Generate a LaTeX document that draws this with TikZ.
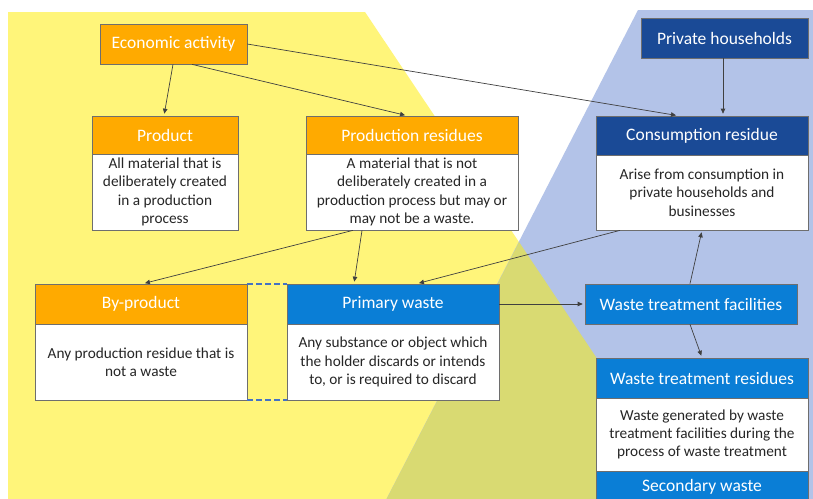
\documentclass[tikz,border=0pt]{standalone}
\usepackage{fontspec}
\setmainfont{Carlito}
\usetikzlibrary{arrows.meta}
\definecolor{bgyellow}{HTML}{FFF57A}
\definecolor{bgblue}{HTML}{B3C3E8}
\definecolor{bgolive}{HTML}{D9DA72}
\definecolor{hdorange}{HTML}{FFAA00}
\definecolor{hdblue}{HTML}{0A7ED6}
\definecolor{hddark}{HTML}{1A4A96}
\definecolor{bordergray}{HTML}{6E6E6E}
\definecolor{arrowgray}{HTML}{404040}
\definecolor{dashblue}{HTML}{4472C4}
\definecolor{bodytext}{HTML}{262626}
\tikzset{
  hdr/.style={draw=bordergray, line width=0.7pt, text=white, minimum width=#1, inner sep=0pt,
    font=\fontsize{17.5}{21}\selectfont, align=center},
  hdrO/.style={hdr=#1, fill=hdorange, minimum height=38pt},
  hdrB/.style={hdr=#1, fill=hdblue, minimum height=40pt},
  hdrD/.style={hdr=#1, fill=hddark, minimum height=40pt},
  bodybox/.style={draw=bordergray, line width=0.7pt, fill=white, text=bodytext, inner sep=0pt,
    font=\fontsize{15.3}{18.3}\selectfont, align=center},
  arr/.style={draw=arrowgray, line width=0.7pt, -{Triangle[width=4.5pt,length=5pt]}, shorten >=2pt},
  dashcon/.style={draw=dashblue, line width=2.2pt, dash pattern=on 6pt off 3pt}
}
\begin{document}
\begin{tikzpicture}[x=1pt,y=-1pt]
\useasboundingbox (0,0) rectangle (813,498);
% background
\fill[white] (0,0) rectangle (813,498);
\fill[bgyellow] (8,12) -- (365,12) -- (693,502) -- (8,502) -- cycle;
\fill[bgblue] (638,10) -- (815,10) -- (815,502) -- (385,502) -- cycle;
\fill[bgolive] (519,242) -- (693,502) -- (385,502) -- cycle;

% top row
\node[hdrO=147pt, minimum height=40pt] (econ) at (173.5,44) {Economic activity};
\node[hdrD=167pt] (ph) at (724.5,38) {Private households};

\node[hdrO=146pt] (prodh) at (165,135) {Product};
\node[bodybox, minimum width=146pt, minimum height=76pt] (prodb) at (165,192)
  {All material that is\\deliberately created\\in a production\\process};

\node[hdrO=212pt] (resh) at (412,135) {Production residues};
\node[bodybox, minimum width=212pt, minimum height=76pt] (resb) at (412,192)
  {A material that is not\\deliberately created in a\\production process but may or\\may not be a waste.};

\node[hdrD=212pt, minimum height=39pt] (consh) at (702,135.5) {Consumption residue};
\node[bodybox, minimum width=212pt, minimum height=75pt] (consb) at (702,192.5)
  {Arise from consumption in\\private households and\\businesses};

% middle row
\node[hdrO=212pt, minimum height=40pt] (byh) at (141,304) {By-product};
\node[bodybox, minimum width=212pt, minimum height=76pt] (byb) at (141,362)
  {Any production residue that is\\not a waste};

\node[hdrB=212pt] (pwh) at (393,304) {Primary waste};
\node[bodybox, minimum width=212pt, minimum height=76pt] (pwb) at (393,362)
  {Any substance or object which\\the holder discards or intends\\to, or is required to discard};

\node[hdrB=212pt] (wtf) at (691,304) {Waste treatment facilities};

% bottom right
\node[hdrB=212pt] (wtrh) at (702,378) {Waste treatment residues};
\node[bodybox, minimum width=212pt, minimum height=73pt] (wtrb) at (702,434.5)
  {Waste generated by waste\\treatment facilities during the\\process of waste treatment};
\node[hdrB=212pt, minimum height=32pt] (sech) at (702,487) {Secondary waste};

% dashed connectors
\draw[dashcon] (byh.north east) -- (pwh.north west);
\draw[dashcon] (byb.south east) -- (pwb.south west);

% arrows
\draw[arr] ([xshift=-0.5pt]econ.south) -- ([xshift=-1pt]prodh.north);
\draw[arr] ([xshift=18.5pt]econ.south) -- ([xshift=-5pt]resh.north);
\draw[arr] (econ.east) -- ([xshift=-24pt]consh.north);
\draw[arr] ([xshift=-1.5pt]ph.south) -- ([xshift=21pt]consh.north);
\draw[arr] ([xshift=-59pt]resb.south) -- ([xshift=2pt]byh.north);
\draw[arr] ([xshift=-50pt]resb.south) -- ([xshift=-39pt]pwh.north);
\draw[arr] ([xshift=-82pt]consb.south) -- ([xshift=24pt]pwh.north);
\draw[arr] (pwh.east) -- (wtf.west);
\draw[arr] ([xshift=-1pt]wtf.north) -- (consb.south);
\draw[arr] ([xshift=-1pt]wtf.south) -- (wtrh.north);
\end{tikzpicture}
\end{document}
